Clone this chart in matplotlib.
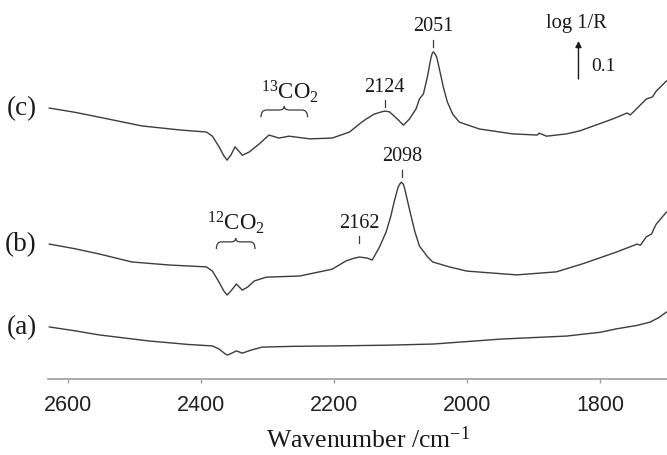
import matplotlib
matplotlib.use("Agg")
import matplotlib.pyplot as plt
from matplotlib.path import Path
from matplotlib.patches import PathPatch

plt.rcParams['mathtext.fontset'] = 'custom'
plt.rcParams['mathtext.rm'] = 'Liberation Serif'
plt.rcParams['mathtext.it'] = 'Liberation Serif:italic'

# spectra: wavenumber (cm-1) and log 1/R before stacking offset
wn_a = [2628, 2590, 2553, 2478, 2420, 2383, 2373, 2366, 2361, 2355, 2347, 2338, 2325, 2308,
        2260, 2203, 2120, 2051, 1950, 1851, 1800, 1776, 1745, 1725, 1712, 1701]
abs_a = [0.057, 0.047, 0.036, 0.020, 0.011, 0.007, -0.001, -0.011, -0.017, -0.013, -0.006,
         -0.012, -0.004, 0.004, 0.006, 0.007, 0.009, 0.012, 0.025, 0.033, 0.043, 0.052, 0.061,
         0.070, 0.082, 0.096]

wn_b = [2628, 2590, 2553, 2504, 2448, 2392, 2383, 2373, 2366, 2361, 2355, 2347, 2338, 2330,
        2320, 2302, 2252, 2203, 2182, 2170, 2162, 2150, 2143, 2132, 2122, 2115, 2110, 2104,
        2101, 2099, 2096, 2094, 2087, 2079, 2072, 2060, 2052, 2027, 2001, 1926, 1866, 1827,
        1776, 1745, 1740, 1731, 1723, 1719, 1716, 1701]
abs_b = [0.055, 0.043, 0.029, 0.008, 0.000, -0.005, -0.016, -0.045, -0.068, -0.079, -0.068,
         -0.050, -0.066, -0.058, -0.042, -0.032, -0.029, -0.011, 0.011, 0.018, 0.021, 0.018,
         0.013, 0.047, 0.087, 0.128, 0.166, 0.205, 0.214, 0.218, 0.212, 0.200, 0.147, 0.089,
         0.050, 0.022, 0.008, -0.005, -0.016, -0.026, -0.018, 0.003, 0.034, 0.055, 0.052,
         0.074, 0.082, 0.098, 0.108, 0.139]

wn_c = [2628, 2590, 2553, 2489, 2430, 2392, 2383, 2373, 2366, 2361, 2355, 2349, 2338, 2328,
        2313, 2298, 2283, 2268, 2237, 2203, 2177, 2160, 2152, 2140, 2129, 2124, 2117, 2110,
        2105, 2096, 2087, 2077, 2072, 2066, 2060, 2055, 2053, 2051, 2049, 2046, 2042, 2036,
        2030, 2022, 2012, 1982, 1932, 1895, 1892, 1881, 1851, 1831, 1782, 1760, 1755, 1731,
        1722, 1716, 1701]
abs_c = [0.063, 0.052, 0.039, 0.016, 0.005, 0.000, -0.011, -0.039, -0.062, -0.074, -0.060,
         -0.039, -0.061, -0.053, -0.032, -0.008, -0.016, -0.011, -0.018, -0.016, 0.000, 0.024,
         0.034, 0.047, 0.053, 0.055, 0.053, 0.042, 0.034, 0.018, 0.034, 0.061, 0.087, 0.100,
         0.145, 0.192, 0.206, 0.211, 0.207, 0.197, 0.166, 0.118, 0.079, 0.047, 0.026, 0.008,
         -0.005, -0.008, -0.003, -0.011, -0.005, 0.003, 0.034, 0.050, 0.045, 0.087, 0.092,
         0.108, 0.134]

offsets = {'(a)': 0.08, '(b)': 0.30, '(c)': 0.65}

peak_labels = ['2051', '2124', '2098', '2162']
peak_pos = [2051, 2124, 2098, 2162]
peak_text_y = [0.929, 0.771, 0.587, 0.413]

line_color = '#3c3c3c'
text_color = '#1a1a1a'
axis_color = '#a0a0a0'
serif = 'Liberation Serif'


def draw_brace(ax, x0, x1, y_end, y_tip):
    """Curly brace opening downward between x0 and x1 (data coords)"""
    xc = 0.5 * (x0 + x1)
    d = 0.12 * (x1 - x0)
    ya = y_end + 0.65 * (y_tip - y_end)
    verts = [(x0, y_end), (x0, ya), (x0 + d, ya),
             (xc - d, ya),
             (xc, ya), (xc, y_tip),
             (xc, ya), (xc + d, ya),
             (x1 - d, ya),
             (x1, ya), (x1, y_end)]
    codes = [Path.MOVETO, Path.CURVE3, Path.CURVE3,
             Path.LINETO,
             Path.CURVE3, Path.CURVE3,
             Path.CURVE3, Path.CURVE3,
             Path.LINETO,
             Path.CURVE3, Path.CURVE3]
    ax.add_patch(PathPatch(Path(verts, codes), facecolor='none', edgecolor=line_color, lw=0.9))


fig = plt.figure(figsize=(6.67, 4.56), dpi=100)
ax = fig.add_axes([48 / 667, 76 / 456, 619 / 667, 380 / 456])

for name, wn, vals in [('(a)', wn_a, abs_a), ('(b)', wn_b, abs_b), ('(c)', wn_c, abs_c)]:
    off = offsets[name]
    ys = [v + off for v in vals]
    ax.plot(wn, ys, color=line_color, lw=1.0, solid_joinstyle='round')
    ax.text(-0.018, ys[0], name, transform=ax.get_yaxis_transform(), ha='right', va='center',
            fontsize=19.5, family=serif, color=text_color, clip_on=False)

for lab, x, y in zip(peak_labels, peak_pos, peak_text_y):
    ax.text(x, y, lab, ha='center', va='center', fontsize=14.5, family=serif, color=text_color)
    ax.plot([x, x], [y - 0.055, y - 0.037], color=line_color, lw=0.9)

# CO2 gas-phase bands
ax.text(2266, 0.758, r'$^{13}$CO$_2$', ha='center', va='center', fontsize=16.5, family=serif,
        color=text_color)
draw_brace(ax, 2310, 2240, 0.689, 0.718)
ax.text(2347, 0.413, r'$^{12}$CO$_2$', ha='center', va='center', fontsize=16.5, family=serif,
        color=text_color)
draw_brace(ax, 2377, 2319, 0.342, 0.371)

# scale bar
ax.annotate('', xy=(1833, 0.8895), xytext=(1833, 0.7895),
            arrowprops=dict(arrowstyle='-|>', color=text_color, lw=1.0, mutation_scale=9,
                            shrinkA=0, shrinkB=0))
ax.text(1836, 0.939, 'log 1/R', ha='center', va='center', fontsize=14.8, family=serif,
        color=text_color)
ax.text(1795, 0.826, '0.1', ha='center', va='center', fontsize=14, family=serif, color=text_color)

ax.set_xlim(2630, 1700)
ax.set_ylim(0, 1)
ax.set_xticks([2600, 2400, 2200, 2000, 1800])
ax.set_yticks([])
for side in ['top', 'right', 'left']:
    ax.spines[side].set_visible(False)
ax.spines['bottom'].set_color(axis_color)
ax.spines['bottom'].set_linewidth(1.2)
ax.tick_params(axis='x', direction='out', length=3, width=1, color=axis_color, pad=8,
               labelsize=15.5, labelcolor='#222222')
for lbl in ax.get_xticklabels():
    lbl.set_family('Liberation Sans')
ax.set_xlabel('Wavenumber /cm$^{-1}$', fontsize=18.5, family=serif, color=text_color,
              va='center')
ax.xaxis.set_label_coords(0.517, -0.158)
ax.patch.set_alpha(0)

fig.savefig('out.png', dpi=100)
